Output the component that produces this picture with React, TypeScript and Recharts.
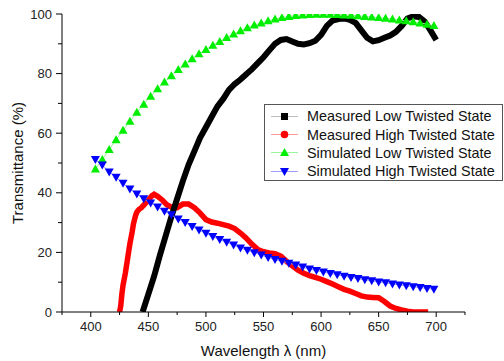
import { LineChart, Line, XAxis, YAxis } from 'recharts'

// wavelength (nm) grid of the simulated curves
const simX = [
  404, 410, 416, 422, 428, 434, 440, 446, 452, 458, 464, 470, 476, 482, 488, 494, 500, 506, 512, 518, 524, 530, 536,
  542, 548, 554, 560, 566, 572, 578, 584, 590, 596, 602, 608, 614, 620, 626, 632, 638, 644, 650, 656, 662, 668, 674,
  680, 686, 692, 698,
]
const simLow = [
  48, 51.2, 54.5, 57.8, 61, 64, 67, 69.7, 72.4, 74.9, 77.2, 79.3, 81.4, 83.2, 85, 86.7, 88.1, 89.5, 90.8, 92.1, 93.3,
  94.4, 95.4, 96.3, 97, 97.7, 98.3, 98.8, 99.2, 99.5, 99.7, 99.8, 99.9, 99.9, 99.9, 99.8, 99.7, 99.6, 99.4, 99.2, 99,
  98.8, 98.6, 98.3, 98, 97.7, 97.4, 97, 96.6, 96.1,
]
const simHigh = [
  51.2, 49.3, 47, 45.2, 43.2, 41.3, 39.6, 38, 36.6, 35.2, 33.8, 32.6, 31.2, 30, 28.7, 27.5, 26.4, 25.3, 24.3, 23.4,
  22.5, 21.5, 20.7, 19.9, 19.1, 18.3, 17.6, 17, 16.4, 15.8, 15.1, 14.4, 13.9, 13.4, 12.9, 12.5, 12, 11.6, 11.2, 10.8,
  10.5, 10.1, 9.8, 9.4, 9.1, 8.8, 8.5, 8.2, 7.9, 7.6,
]

const measLowX = [
  445, 450, 455, 460, 465, 470, 475, 480, 485, 490, 495, 500, 505, 510, 515, 520, 525, 530, 535, 540, 545, 550, 555,
  560, 565, 570, 575, 580, 585, 590, 595, 600, 605, 610, 615, 620, 625, 630, 635, 640, 645, 650, 655, 660, 665, 670,
  675, 680, 685, 690, 695, 700,
]
const measLow = [
  0, 6, 12, 19, 25.5, 32, 38, 44, 49.5, 54, 58.5, 62, 65.5, 69, 71.5, 74.5, 76.5, 78, 79.8, 81.5, 83.5, 85.5, 87.8,
  90, 91.3, 91.6, 90.8, 90, 89.8, 90.2, 91, 93, 96, 97.8, 98.3, 98.5, 98, 97, 94.5, 92, 90.8, 91.2, 92, 92.8, 94, 96,
  98.5, 99.2, 99, 97.5, 94.5, 91.3,
]

const measHighX = [
  425, 426, 427, 428, 429, 430, 431, 432, 433, 434, 435, 436, 437, 438, 439, 440, 442, 444, 447, 450, 453, 455, 458,
  462, 466, 470, 475, 480, 485, 490, 495, 500, 505, 510, 515, 520, 525, 530, 535, 540, 545, 550, 555, 560, 565, 570,
  575, 580, 585, 590, 595, 600, 605, 610, 615, 620, 625, 630, 635, 640, 645, 650, 655, 660, 665, 670, 675, 680, 685,
  690, 693,
]
const measHigh = [
  0, 2, 6, 9, 11, 13, 15.5, 18, 20.5, 23, 25, 27, 29.5, 31, 32.5, 33.5, 34.5, 35, 36.3, 37.5, 39, 39.5, 38.8, 37.6,
  36, 35.2, 35, 36.2, 36.2, 35, 33.2, 31, 30.2, 29.8, 29.3, 28.8, 28, 26.5, 24.8, 22.7, 21, 20.2, 19.8, 19.6, 18.8,
  17, 15.5, 14, 13, 12.2, 11.6, 11, 10.2, 9.4, 8.5, 7.6, 7, 6.2, 5.4, 5, 4.9, 4.8, 3.5, 2, 1.2, 0.7, 0.3, 0, 0, 0, 0,
]

const xTicks = [375, 400, 425, 450, 475, 500, 525, 550, 575, 600, 625, 650, 675, 700, 725]
const yTicks = [0, 10, 20, 30, 40, 50, 60, 70, 80, 90, 100]

const legendItems = [
  { name: 'Measured Low Twisted State', color: '#000000', line: '#bdbdbd', shape: 'square' },
  { name: 'Measured High Twisted State', color: '#ff0000', line: '#ff9a9a', shape: 'circle' },
  { name: 'Simulated Low Twisted State', color: '#00ee00', line: '#9af59a', shape: 'up' },
  { name: 'Simulated High Twisted State', color: '#0000ff', line: '#9a9aff', shape: 'down' },
]

const font = '"Liberation Sans", Arial, sans-serif'

const toPoints = (xs: number[], ys: number[]) => xs.map((x, i) => ({ x, y: ys[i] }))

const triangle = (color: string, up: boolean) => (props: any) => {
  const { cx, cy, index } = props
  if (cx == null || cy == null) return <g key={`e${index}`} />
  const d = up
    ? `M${cx},${cy - 4.5} L${cx + 4.5},${cy + 3.5} L${cx - 4.5},${cy + 3.5} Z`
    : `M${cx},${cy + 4.5} L${cx + 4.5},${cy - 3.5} L${cx - 4.5},${cy - 3.5} Z`
  return <path key={`t${index}`} d={d} fill={color} />
}

const XTick = (props: any) => {
  const { x, y, payload } = props
  const major = payload.value % 50 === 0
  return (
    <g>
      <line x1={x} x2={x} y1={y} y2={y + (major ? 5 : 3)} stroke="#000" />
      {major && (
        <text x={x} y={y + 19} textAnchor="middle" fontSize={13} fill="#222" fontFamily={font}>
          {payload.value}
        </text>
      )}
    </g>
  )
}

const YTick = (props: any) => {
  const { x, y, payload } = props
  const major = payload.value % 20 === 0
  return (
    <g>
      <line x1={x - (major ? 6 : 4)} x2={x} y1={y} y2={y} stroke="#000" />
      {major && (
        <text x={x - 10} y={y + 4.5} textAnchor="end" fontSize={13} fill="#222" fontFamily={font}>
          {payload.value}
        </text>
      )}
    </g>
  )
}

function LegendMark({ shape, color }: { shape: string; color: string }) {
  if (shape === 'square') return <rect x={12} y={3} width={7} height={7} fill={color} />
  if (shape === 'circle') return <circle cx={15.5} cy={6.5} r={3.8} fill={color} />
  if (shape === 'up') return <path d="M15.5,2 L20,10 L11,10 Z" fill={color} />
  return <path d="M15.5,11 L20,3 L11,3 Z" fill={color} />
}

export default function App() {
  return (
    <div style={{ position: 'absolute', left: 0, top: 0, width: 504, height: 361, background: '#fff' }}>
      <LineChart width={504} height={361} margin={{ top: 14, right: 39, bottom: 0, left: 0 }}>
        <XAxis
          type="number"
          dataKey="x"
          domain={[375, 725]}
          ticks={xTicks}
          interval={0}
          allowDataOverflow
          height={49}
          tickSize={0}
          tickMargin={0}
          tickLine={false}
          tick={<XTick />}
          stroke="#000"
          label={{
            value: 'Wavelength λ (nm)',
            position: 'insideBottom',
            offset: 5,
            style: { fontSize: 15, fill: '#111', fontFamily: font },
          }}
        />
        <YAxis
          type="number"
          domain={[0, 100]}
          ticks={yTicks}
          interval={0}
          allowDataOverflow
          width={62}
          tickSize={0}
          tickMargin={0}
          tickLine={false}
          tick={<YTick />}
          stroke="#000"
          label={{
            value: 'Transmittance (%)',
            angle: -90,
            position: 'insideLeft',
            offset: 18,
            style: { textAnchor: 'middle', fontSize: 15, fill: '#111', fontFamily: font },
          }}
        />
        <Line
          data={toPoints(measHighX, measHigh)}
          dataKey="y"
          stroke="#ff0000"
          strokeWidth={5.5}
          dot={false}
          isAnimationActive={false}
        />
        <Line
          data={toPoints(measLowX, measLow)}
          dataKey="y"
          stroke="#000000"
          strokeWidth={6}
          dot={false}
          isAnimationActive={false}
        />
        <Line
          data={toPoints(simX, simLow)}
          dataKey="y"
          stroke="#9af59a"
          strokeWidth={1}
          dot={triangle('#00ee00', true)}
          isAnimationActive={false}
        />
        <Line
          data={toPoints(simX, simHigh)}
          dataKey="y"
          stroke="#9a9aff"
          strokeWidth={1}
          dot={triangle('#0000ff', false)}
          isAnimationActive={false}
        />
      </LineChart>
      <div
        style={{
          position: 'absolute',
          left: 264,
          top: 104,
          width: 239,
          height: 77,
          border: '1px solid #555',
          background: '#fff',
          fontFamily: font,
          fontSize: 14.4,
          color: '#111',
          paddingTop: 2,
          boxSizing: 'border-box',
        }}
      >
        {legendItems.map((item) => (
          <div key={item.name} style={{ display: 'flex', alignItems: 'center', height: 18.4 }}>
            <svg width={38} height={13} style={{ flex: 'none', marginLeft: 4 }}>
              <line x1={2} x2={29} y1={6.5} y2={6.5} stroke={item.line} strokeWidth={1} />
              <LegendMark shape={item.shape} color={item.color} />
            </svg>
            <span style={{ whiteSpace: 'nowrap' }}>{item.name}</span>
          </div>
        ))}
      </div>
    </div>
  )
}
